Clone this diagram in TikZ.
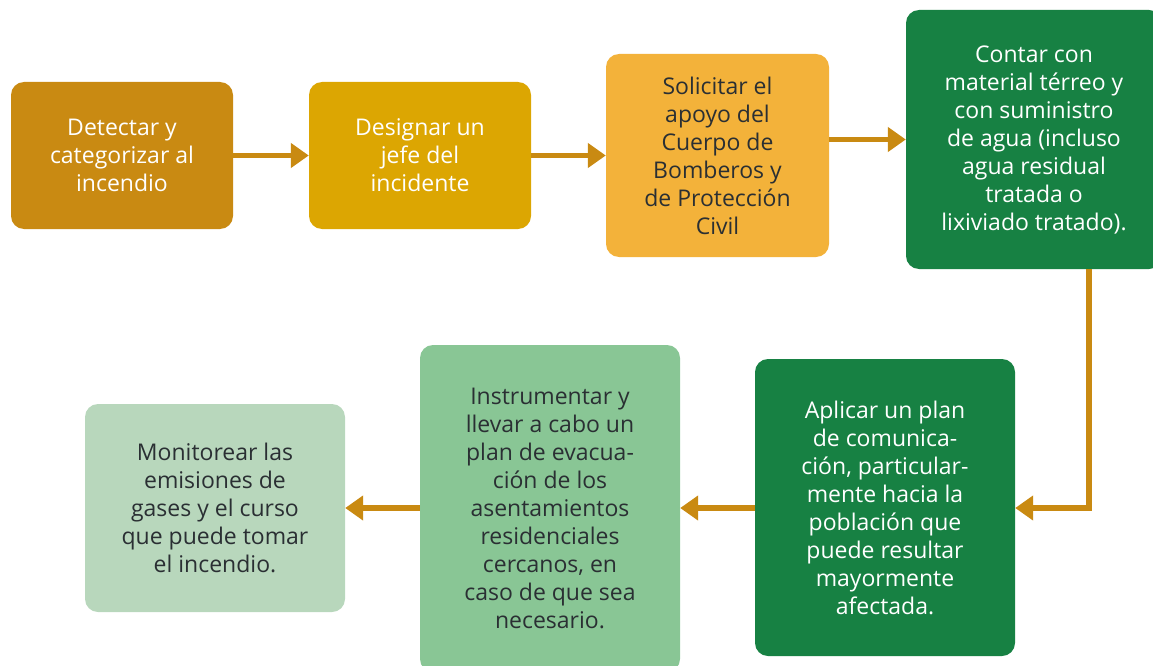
\documentclass[tikz,border=0pt]{standalone}
\usepackage{fontspec}
\setmainfont{Open Sans}
\usetikzlibrary{arrows.meta}
\definecolor{ocre}{HTML}{C98A12}
\definecolor{oro}{HTML}{DCA602}
\definecolor{ambar}{HTML}{F3B23A}
\definecolor{verde}{HTML}{178143}
\definecolor{verdemed}{HTML}{89C695}
\definecolor{verdeclaro}{HTML}{B8D7BC}
\definecolor{tinta}{HTML}{2A2F33}
\tikzset{
  paso/.style={rounded corners=13pt, align=center, inner sep=0pt,
    font=\fontsize{23}{28}\selectfont},
  flecha/.style={ocre, line width=5.5pt, -{Triangle[length=18pt,width=24pt]}}
}
\begin{document}
\begin{tikzpicture}[x=1pt, y=-1pt]
    \useasboundingbox (0,0) rectangle (1153,666);
    \clip (0,0) rectangle (1153,666);
    % upper row
    \node[paso, fill=ocre, text=white, minimum width=222pt, minimum height=147pt] (detectar) at (122,155.5)
      {Detectar y\\categorizar al\\incendio};
    \node[paso, fill=oro, text=white, minimum width=222pt, minimum height=147pt] (designar) at (420,155.5)
      {Designar un\\jefe del\\incidente};
    \node[paso, fill=ambar, text=tinta, minimum width=223pt, minimum height=203pt] (solicitar) at (717.5,155.5)
      {Solicitar el\\apoyo del\\Cuerpo de\\Bomberos y\\de Protección\\Civil};
    \node[paso, fill=verde, text=white, minimum width=256pt, minimum height=259pt] (contar) at (1034,139.5)
      {Contar con\\material térreo y\\con suministro\\de agua (incluso\\agua residual\\tratada o\\lixiviado tratado).};
    % lower row
    \node[paso, fill=verde, text=white, minimum width=260pt, minimum height=297pt] (aplicar) at (885,507.5)
      {Aplicar un plan\\de comunica-\\ción, particular-\\mente hacia la\\población que\\puede resultar\\mayormente\\afectada.};
    \node[paso, fill=verdemed, text=tinta, minimum width=260pt, minimum height=327pt] (instrumentar) at (550,508.5)
      {Instrumentar y\\llevar a cabo un\\plan de evacua-\\ción de los\\asentamientos\\residenciales\\cercanos, en\\caso de que sea\\necesario.};
    \node[paso, fill=verdeclaro, text=tinta, minimum width=260pt, minimum height=208pt] (monitorear) at (215,508)
      {Monitorear las\\emisiones de\\gases y el curso\\que puede tomar\\el incendio.};
    \coordinate (giro) at (1089,508);
    % connectors
    \draw[flecha] (detectar) -- (designar);
    \draw[flecha] (designar) -- (designar -| solicitar.west);
    \draw[flecha] (solicitar.east |- contar.west) -- (contar.west);
    \draw[flecha] (contar.south -| giro) -- (giro) -- (aplicar.east |- giro);
    \draw[flecha] (aplicar.west |- giro) -- (instrumentar.east |- giro);
    \draw[flecha] (instrumentar.west |- giro) -- (monitorear.east |- giro);
  \end{tikzpicture}
\end{document}
